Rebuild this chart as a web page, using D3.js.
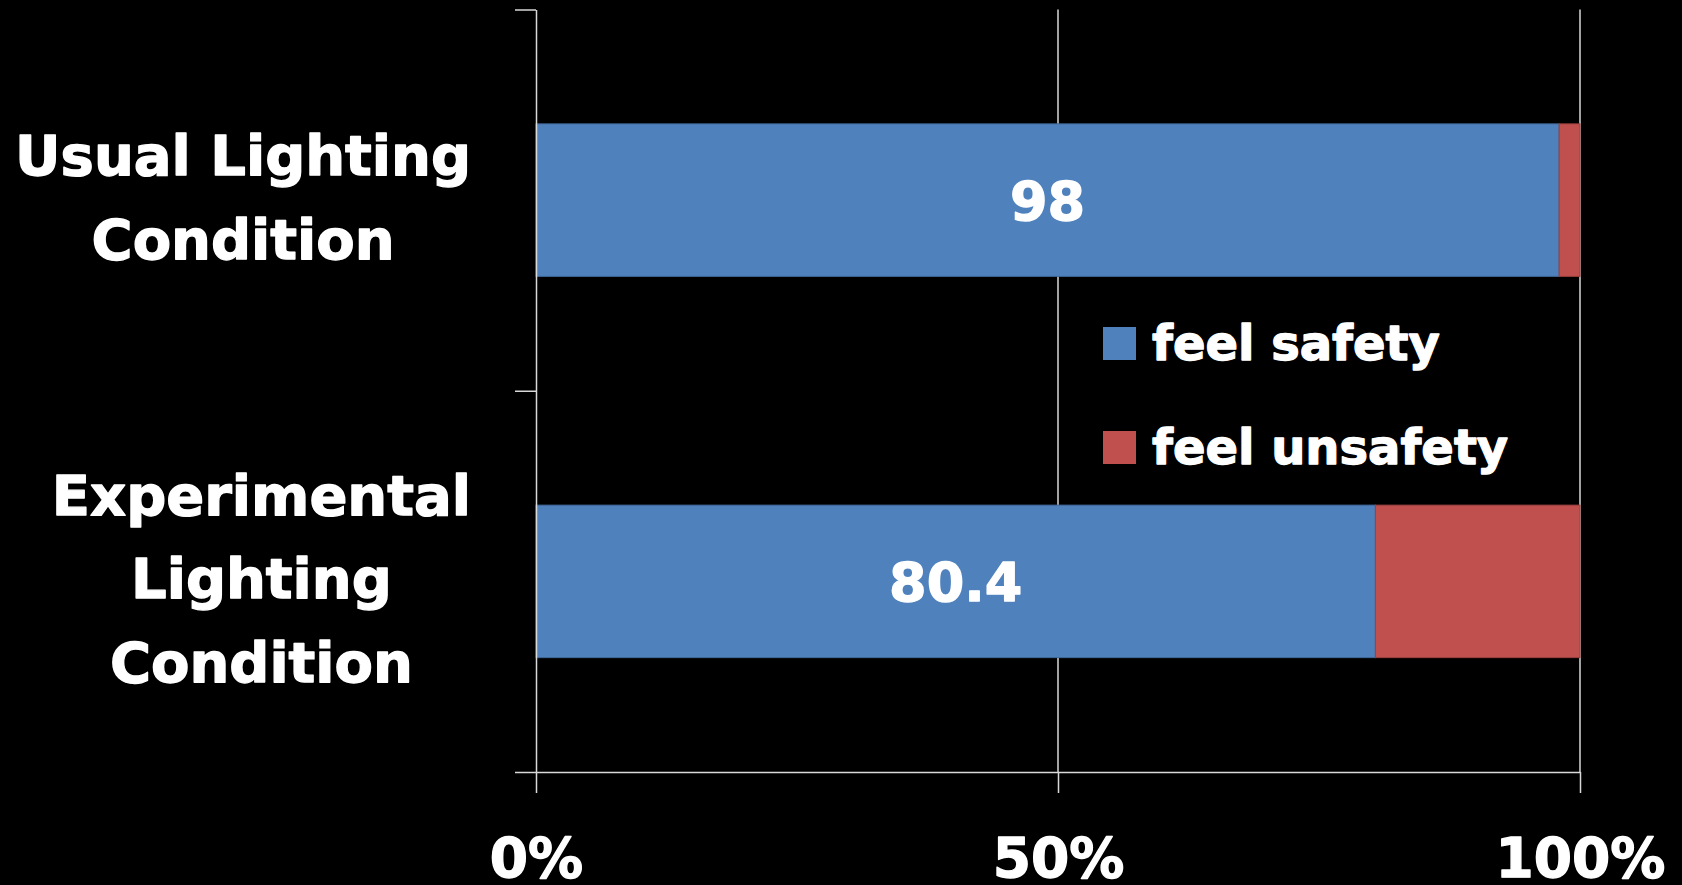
<!DOCTYPE html>
<html>
<head>
<meta charset="utf-8">
<script src="https://cdn.jsdelivr.net/npm/d3@7"></script>
<style>
  html, body { margin: 0; padding: 0; background: #000; }
  svg { display: block; }
  text { font-family: "DejaVu Sans", "Liberation Sans", Arial, sans-serif; font-weight: bold; fill: #fff;
         stroke: #fff; stroke-width: 1.3px; stroke-linejoin: round; }
</style>
</head>
<body>
<svg id="chart" width="1682" height="885"></svg>
<script>
// Categories (each label line drawn separately), series and axis ticks
const categories = ["Usual Lighting Condition", "Experimental Lighting Condition"];
const categoryLines = [["Usual Lighting", "Condition"], ["Experimental", "Lighting", "Condition"]];
const seriesNames = ["feel safety", "feel unsafety"];
const feelSafety = [98, 80.4];
const feelUnsafety = [2, 19.6];
const xTicks = [0, 50, 100];
const colors = ["#4F81BD", "#C0504D"];

const W = 1682, H = 885;
const plot = { left: 536, right: 1580, top: 9.5, bottom: 772 };
const svg = d3.select("#chart");
svg.append("rect").attr("width", W).attr("height", H).attr("fill", "#000");

const x = d3.scaleLinear().domain([0, 100]).range([plot.left, plot.right]);
const y = d3.scaleBand().domain(categories).range([plot.top, plot.bottom])
  .paddingInner(0.6).paddingOuter(0.3);
// Boundary positions between category bands, for the category-axis ticks
const yEdges = d3.scaleLinear().domain([0, categories.length]).range([plot.top, plot.bottom]);

const lineColor = "#d9d9d9";

// Vertical gridlines
svg.append("g").selectAll("line")
  .data(xTicks.filter(d => d > 0))
  .join("line")
  .attr("x1", d => x(d)).attr("x2", d => x(d))
  .attr("y1", plot.top).attr("y2", plot.bottom)
  .attr("stroke", lineColor).attr("stroke-width", 1.5);

// Stacked bars
const rows = categories.map((c, i) => ({ cat: c, values: [feelSafety[i], feelUnsafety[i]] }));
const stack = d3.stack().keys([0, 1]).value((d, k) => d.values[k]);
const layers = stack(rows);

const barG = svg.append("g");
layers.forEach((layer, k) => {
  barG.append("g").selectAll("rect")
    .data(layer)
    .join("rect")
    .attr("x", d => x(d[0]))
    .attr("width", d => x(d[1]) - x(d[0]))
    .attr("y", d => y(d.data.cat))
    .attr("height", y.bandwidth())
    .attr("fill", colors[k])
    .attr("stroke", d3.color(colors[k]).darker(0.6))
    .attr("stroke-width", 1);
});

// Value labels on the "feel safety" segments
barG.append("g").selectAll("text")
  .data(layers[0])
  .join("text")
  .attr("x", d => (x(d[0]) + x(d[1])) / 2)
  .attr("y", d => y(d.data.cat) + y.bandwidth() / 2)
  .attr("dy", "0.36em")
  .attr("text-anchor", "middle")
  .style("font-size", "54px")
  .text(d => d3.format("~g")(d.data.values[0]));

// Category axis (ticks at band edges)
const yAxis = svg.append("g")
  .attr("transform", `translate(${plot.left},0)`)
  .call(d3.axisLeft(yEdges).ticks(categories.length).tickFormat("").tickSize(21).tickSizeOuter(0));
yAxis.selectAll("path, line").attr("stroke", lineColor).attr("stroke-width", 1.5);

// Value axis
const xAxis = svg.append("g")
  .attr("transform", `translate(0,${plot.bottom})`)
  .call(d3.axisBottom(x).tickValues(xTicks).tickFormat(d => d + "%").tickSize(21).tickSizeOuter(0).tickPadding(45));
xAxis.selectAll("path, line").attr("stroke", lineColor).attr("stroke-width", 1.5);
xAxis.selectAll("text")
  .attr("fill", "#fff")
  .style("font-size", "55px")
  .style("font-family", "'DejaVu Sans', sans-serif")
  .style("font-weight", "bold");

// Category labels: wrapped lines centred within a block right-aligned near the axis
const lineH = 83.5;
const labelRight = 471;
const catG = svg.append("g");
categories.forEach((c, i) => {
  const lines = categoryLines[i];
  const g = catG.append("g");
  const texts = g.selectAll("text").data(lines).join("text")
    .style("font-size", "56px")
    .attr("text-anchor", "middle")
    .text(d => d);
  const maxW = d3.max(texts.nodes(), n => n.getComputedTextLength());
  const cx = labelRight - maxW / 2;
  const cy = y(c) + y.bandwidth() / 2;
  texts.attr("x", cx)
    .attr("y", (d, j) => cy + 17 + (j - (lines.length - 1) / 2) * lineH);
});

// Legend
const legend = svg.append("g").attr("transform", "translate(1103,327)");
const legendRow = legend.selectAll("g").data(seriesNames).join("g")
  .attr("transform", (d, i) => `translate(0,${i * 104})`);
legendRow.append("rect")
  .attr("width", 33).attr("height", 33)
  .attr("fill", (d, i) => colors[i]);
legendRow.append("text")
  .attr("x", 49).attr("y", 32.5)
  .style("font-size", "48px")
  .text(d => d);
</script>
</body>
</html>
